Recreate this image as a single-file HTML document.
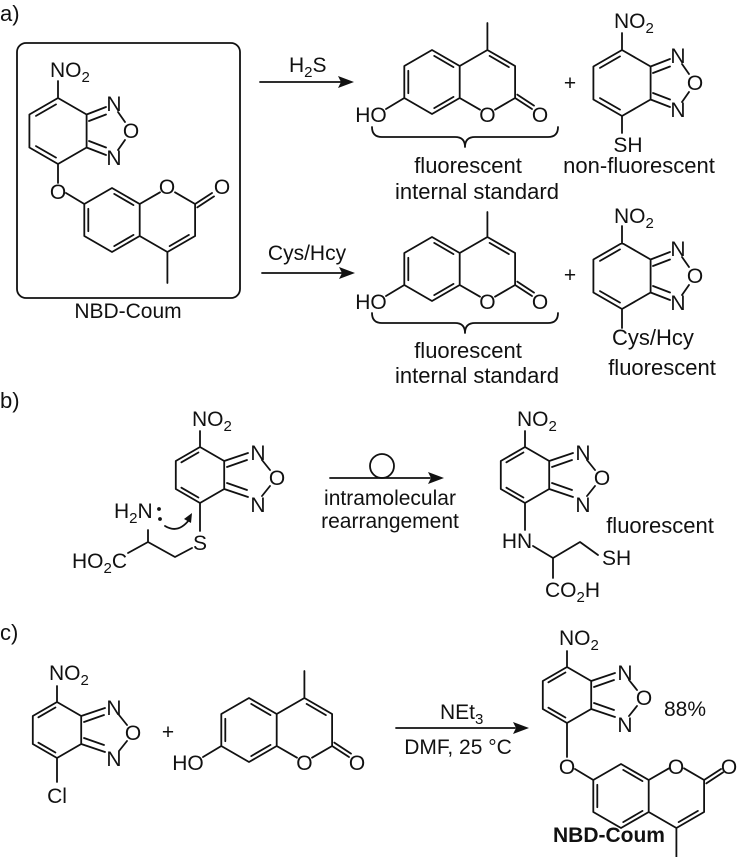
<!DOCTYPE html>
<html><head><meta charset="utf-8"><style>
html,body{margin:0;padding:0;background:#fff;}
svg{display:block;}
text{font-family:"Liberation Sans",Arial,sans-serif;font-size:21px;fill:#111;}
.l{fill:none;stroke:#111;stroke-width:1.8;stroke-linecap:round;stroke-linejoin:round;}
.m{text-anchor:middle;}
.e{text-anchor:end;}
.s{font-size:15px;}
.big{font-size:22px;}
</style></head><body>
<svg width="739" height="857" viewBox="0 0 739 857" xmlns="http://www.w3.org/2000/svg">
<text x="0" y="21" class="big">a)</text>
<text x="0" y="408" class="big">b)</text>
<text x="0" y="640" class="big">c)</text>

<rect x="17" y="43" width="223" height="255" rx="9" class="l"/>
<text x="128" y="318" class="m">NBD-Coum</text>

<g transform="translate(58,98)">
<path class="l" d="M0,0 L-28.6,16.5 L-28.6,49.5 L0,66 L28.6,49.5 L28.6,16.5 Z M-2,6.4 L-22,17.9 M-22,48.1 L-2,59.6 M28.6,16.5 L48,9 M31,23 L48,16.5 M28.6,49.5 L48,57 M31,43 L48,49.5 M60,14 L67,24 M67,42 L60,52 M0,0 L0,-17 M0,66 L0,85"/>
<text x="56" y="13" class="m">N</text><text x="73" y="40" class="m">O</text><text x="56" y="67" class="m">N</text>
<text x="-8" y="-21">NO<tspan class="s" dy="5">2</tspan></text>
<text x="0" y="101" class="m">O</text>
</g>
<g transform="translate(112,220) scale(1,-1)">
<path class="l" d="M0,-32 L27.7,-16 L27.7,16 L0,32 L-27.7,16 L-27.7,-16 Z M2.2,-26.1 L21.5,-14.9 M21.5,14.9 L2.2,26.1 M-23.7,-11.2 L-23.7,11.2 M27.7,-16 L55.4,-32 L83.1,-16 L83.1,16 L63,27.7 M48,27.7 L27.7,16 M57.6,-26.1 L76.9,-14.9 M55.4,-32 L55.4,-63 M83.1,16 L100,27 M85.3,12.6 L102,23.6 M-27.7,16 L-46,27"/>
</g>
<text x="167" y="194" class="m">O</text>
<text x="222" y="194" class="m">O</text>

<path class="l" d="M260,82 L342,82"/><polygon points="354,82 338,76 341,82 338,88" fill="#111"/>
<text x="289" y="72">H<tspan class="s" dy="5">2</tspan><tspan dy="-5">S</tspan></text>
<path class="l" d="M262,273 L343,273"/><polygon points="355,273 339,267 342,273 339,279" fill="#111"/>
<text x="307" y="260" class="m">Cys/Hcy</text>

<g transform="translate(432,82)">
<path class="l" d="M0,-32 L27.7,-16 L27.7,16 L0,32 L-27.7,16 L-27.7,-16 Z M2.2,-26.1 L21.5,-14.9 M21.5,14.9 L2.2,26.1 M-23.7,-11.2 L-23.7,11.2 M27.7,-16 L55.4,-32 L83.1,-16 L83.1,16 L63,27.7 M48,27.7 L27.7,16 M57.6,-26.1 L76.9,-14.9 M55.4,-32 L55.4,-59 M83.1,16 L100,27 M85.3,12.6 L102,23.6 M-27.7,16 L-46,27"/>
<text x="-61" y="40" class="m">HO</text><text x="55.4" y="40" class="m">O</text><text x="108" y="40" class="m">O</text>
</g>
<path class="l" d="M372,127 Q372,137 382,137 L455,137 Q465,137 465,147 Q465,137 475,137 L548,137 Q558,137 558,127"/>
<text x="468" y="173" class="m big">fluorescent</text>
<text x="477" y="199" class="m big">internal standard</text>
<text x="570" y="90" class="m">+</text>

<g transform="translate(622,50)">
<path class="l" d="M0,0 L-28.6,16.5 L-28.6,49.5 L0,66 L28.6,49.5 L28.6,16.5 Z M-2,6.4 L-22,17.9 M-22,48.1 L-2,59.6 M28.6,16.5 L48,9 M31,23 L48,16.5 M28.6,49.5 L48,57 M31,43 L48,49.5 M60,14 L67,24 M67,42 L60,52 M0,0 L0,-17 M0,66 L0,83"/>
<text x="56" y="13" class="m">N</text><text x="73" y="40" class="m">O</text><text x="56" y="67" class="m">N</text>
<text x="-8" y="-22">NO<tspan class="s" dy="5">2</tspan></text>
<text x="6" y="102" class="m">SH</text>
</g>
<text x="639" y="173" class="m big">non-fluorescent</text>

<g transform="translate(432,269)">
<path class="l" d="M0,-32 L27.7,-16 L27.7,16 L0,32 L-27.7,16 L-27.7,-16 Z M2.2,-26.1 L21.5,-14.9 M21.5,14.9 L2.2,26.1 M-23.7,-11.2 L-23.7,11.2 M27.7,-16 L55.4,-32 L83.1,-16 L83.1,16 L63,27.7 M48,27.7 L27.7,16 M57.6,-26.1 L76.9,-14.9 M55.4,-32 L55.4,-57 M83.1,16 L100,27 M85.3,12.6 L102,23.6 M-27.7,16 L-46,27"/>
<text x="-61" y="40" class="m">HO</text><text x="55.4" y="40" class="m">O</text><text x="108" y="40" class="m">O</text>
</g>
<path class="l" d="M372,313 Q372,323 382,323 L455,323 Q465,323 465,333 Q465,323 475,323 L548,323 Q558,323 558,313"/>
<text x="468" y="358" class="m big">fluorescent</text>
<text x="477" y="383" class="m big">internal standard</text>
<text x="570" y="282" class="m">+</text>

<g transform="translate(622,243)">
<path class="l" d="M0,0 L-28.6,16.5 L-28.6,49.5 L0,66 L28.6,49.5 L28.6,16.5 Z M-2,6.4 L-22,17.9 M-22,48.1 L-2,59.6 M28.6,16.5 L48,9 M31,23 L48,16.5 M28.6,49.5 L48,57 M31,43 L48,49.5 M60,14 L67,24 M67,42 L60,52 M0,0 L0,-17 M0,66 L0,85"/>
<text x="56" y="13" class="m">N</text><text x="73" y="40" class="m">O</text><text x="56" y="67" class="m">N</text>
<text x="-8" y="-20">NO<tspan class="s" dy="5">2</tspan></text>
</g>
<text x="653" y="345" class="m big">Cys/Hcy</text>
<text x="662" y="375" class="m big">fluorescent</text>

<g transform="translate(200,447)">
<path class="l" d="M0,0 L-24.2,14 L-24.2,42 L0,56 L24.2,42 L24.2,14 Z M-1.6,5.5 L-18.6,15.3 M-18.6,40.7 L-1.6,50.5 M24.2,14 L48,6 M27,20 L47,13 M24.2,42 L48,50 M27,36 L47,43 M62,13 L70,23 M70,39 L62,49 M0,0 L0,-16 M0,56 L0,84"/>
<text x="58" y="13" class="m">N</text><text x="77" y="38" class="m">O</text><text x="58" y="65" class="m">N</text>
<text x="-8" y="-21">NO<tspan class="s" dy="5">2</tspan></text>
<text x="0" y="103" class="m">S</text>
</g>
<text x="114" y="518">H<tspan class="s" dy="5">2</tspan><tspan dy="-5">N</tspan></text>
<circle cx="159" cy="509" r="1.9" fill="#111"/><circle cx="160" cy="519" r="1.9" fill="#111"/>
<path class="l" d="M165,526 Q178,534 189,520"/><polygon points="192,513 184,519 191,523" fill="#111"/>
<path class="l" d="M148,530 L148,542 L128,553 M148,542 L175,557 L192,548"/>
<text x="127" y="568" class="e">HO<tspan class="s" dy="5">2</tspan><tspan dy="-5">C</tspan></text>

<path class="l" d="M330,478 L430,478"/><polygon points="444,478 428,472 431,478 428,484" fill="#111"/>
<circle cx="382" cy="466" r="12" class="l"/>
<text x="390" y="505" class="m">intramolecular</text>
<text x="390" y="528" class="m">rearrangement</text>

<g transform="translate(525,447)">
<path class="l" d="M0,0 L-24.2,14 L-24.2,42 L0,56 L24.2,42 L24.2,14 Z M-1.6,5.5 L-18.6,15.3 M-18.6,40.7 L-1.6,50.5 M24.2,14 L48,6 M27,20 L47,13 M24.2,42 L48,50 M27,36 L47,43 M62,13 L70,23 M70,39 L62,49 M0,0 L0,-16 M0,56 L0,83"/>
<text x="58" y="13" class="m">N</text><text x="77" y="38" class="m">O</text><text x="58" y="65" class="m">N</text>
<text x="-8" y="-21">NO<tspan class="s" dy="5">2</tspan></text>
</g>
<text x="517" y="548" class="m">HN</text>
<path class="l" d="M533,546 L553,558 L580,542 L598,555 M553,558 L553,578"/>
<text x="602" y="565">SH</text>
<text x="545" y="597">CO<tspan class="s" dy="5">2</tspan><tspan dy="-5">H</tspan></text>
<text x="660" y="533" class="m big">fluorescent</text>

<g transform="translate(57,702)">
<path class="l" d="M0,0 L-24.2,14 L-24.2,42 L0,56 L24.2,42 L24.2,14 Z M-1.6,5.5 L-18.6,15.3 M-18.6,40.7 L-1.6,50.5 M24.2,14 L48,6 M27,20 L47,13 M24.2,42 L48,50 M27,36 L47,43 M62,13 L70,23 M70,39 L62,49 M0,0 L0,-16 M0,56 L0,80"/>
<text x="57" y="13" class="m">N</text><text x="76" y="38" class="m">O</text><text x="57" y="64" class="m">N</text>
<text x="-8" y="-22">NO<tspan class="s" dy="5">2</tspan></text>
<text x="0" y="101" class="m">Cl</text>
</g>
<text x="168" y="739" class="m">+</text>
<g transform="translate(249,730)">
<path class="l" d="M0,-32 L27.7,-16 L27.7,16 L0,32 L-27.7,16 L-27.7,-16 Z M2.2,-26.1 L21.5,-14.9 M21.5,14.9 L2.2,26.1 M-23.7,-11.2 L-23.7,11.2 M27.7,-16 L55.4,-32 L83.1,-16 L83.1,16 L63,27.7 M48,27.7 L27.7,16 M57.6,-26.1 L76.9,-14.9 M55.4,-32 L55.4,-59 M83.1,16 L100,27 M85.3,12.6 L102,23.6 M-27.7,16 L-46,27"/>
<text x="-61" y="40" class="m">HO</text><text x="55.4" y="40" class="m">O</text><text x="108" y="40" class="m">O</text>
</g>
<path class="l" d="M396,728 L515,728"/><polygon points="529,728 513,722 516,728 513,734" fill="#111"/>
<text x="440" y="719">NEt<tspan class="s" dy="5">3</tspan></text>
<text x="458" y="754" class="m">DMF, 25 °C</text>

<g transform="translate(567,667)">
<path class="l" d="M0,0 L-24.2,14 L-24.2,42 L0,56 L24.2,42 L24.2,14 Z M-1.6,5.5 L-18.6,15.3 M-18.6,40.7 L-1.6,50.5 M24.2,14 L48,6 M27,20 L47,13 M24.2,42 L48,50 M27,36 L47,43 M62,13 L70,23 M70,39 L62,49 M0,0 L0,-16 M0,56 L0,90"/>
<text x="58" y="13" class="m">N</text><text x="77" y="38" class="m">O</text><text x="58" y="65" class="m">N</text>
<text x="-8" y="-22">NO<tspan class="s" dy="5">2</tspan></text>
<text x="0" y="107" class="m">O</text>
</g>
<g transform="translate(621,796) scale(1,-1)">
<path class="l" d="M0,-32 L27.7,-16 L27.7,16 L0,32 L-27.7,16 L-27.7,-16 Z M2.2,-26.1 L21.5,-14.9 M21.5,14.9 L2.2,26.1 M-23.7,-11.2 L-23.7,11.2 M27.7,-16 L55.4,-32 L83.1,-16 L83.1,16 L63,27.7 M48,27.7 L27.7,16 M57.6,-26.1 L76.9,-14.9 M55.4,-32 L55.4,-65 M83.1,16 L100,27 M85.3,12.6 L102,23.6 M-27.7,16 L-46,27"/>
</g>
<text x="676" y="774" class="m">O</text>
<text x="729" y="774" class="m">O</text>
<text x="685" y="716" class="m">88%</text>
<text x="609" y="842" class="m" style="font-weight:bold">NBD-Coum</text>
</svg>
</body></html>
